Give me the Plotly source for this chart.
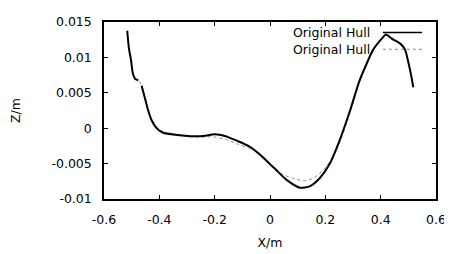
import plotly.graph_objects as go

# Solid "Original Hull" profile (None = small gap in the drawn line)
x_solid = [-0.516, -0.510, -0.502, -0.496, -0.488, -0.476, -0.470,
           -0.464, -0.452, -0.440, -0.428, -0.410, -0.386, -0.331, -0.289, -0.241, -0.199,
           -0.163, -0.120, -0.078, -0.036, 0.012, 0.060, 0.108, 0.145, 0.181, 0.217, 0.251,
           0.287, 0.323, 0.348, 0.373, 0.404, 0.419, 0.440, 0.470, 0.488, 0.500, 0.510, 0.518]
z_solid = [0.01376, 0.01132, 0.00955, 0.00778, 0.00698, 0.00676, None,
           0.00600, 0.00423, 0.00246, 0.00113, 0.00001, -0.00065, -0.00096, -0.00112, -0.00109, -0.00087,
           -0.00109, -0.00176, -0.00251, -0.00375, -0.00552, -0.00730, -0.00840, -0.00818, -0.00700, -0.00495, -0.00179,
           0.00221, 0.00665, 0.00900, 0.01110, 0.01265, 0.01323, 0.01265, 0.01198, 0.01110, 0.00932, 0.00750, 0.00578]

# Dotted "Original Hull" profile
x_dot = [-0.516, -0.510, -0.502, -0.496, -0.488, -0.476, -0.464, -0.452, -0.440, -0.428,
         -0.410, -0.386, -0.350, -0.300, -0.250, -0.205, -0.160, -0.120, -0.072, -0.036,
         0.012, 0.050, 0.084, 0.120, 0.156, 0.190, 0.220, 0.255, 0.290, 0.323, 0.348,
         0.373, 0.404, 0.419, 0.440, 0.470, 0.488, 0.500, 0.510, 0.518]
z_dot = [0.01376, 0.01132, 0.00955, 0.00778, 0.00698, 0.00676, 0.00600, 0.00423, 0.00250, 0.00125,
         0.00025, -0.00050, -0.00095, -0.00118, -0.00125, -0.00122, -0.00160, -0.00219, -0.00286, -0.00360,
         -0.00540, -0.00660, -0.00707, -0.00743, -0.00707, -0.00600, -0.00450, -0.00170, 0.00220, 0.00650, 0.00890,
         0.01100, 0.01260, 0.01315, 0.01260, 0.01195, 0.01105, 0.00930, 0.00750, 0.00578]

x_ticks = [-0.6, -0.4, -0.2, 0, 0.2, 0.4, 0.6]
x_tick_text = ["-0.6", "-0.4", "-0.2", "0", "0.2", "0.4", "0.6"]
y_ticks = [-0.01, -0.005, 0, 0.005, 0.01, 0.015]
y_tick_text = ["-0.01", "-0.005", "0", "0.005", "0.01", "0.015"]

legend_labels = ["Original Hull", "Original Hull"]

font = dict(family="DejaVu Sans, Liberation Sans, Arial, sans-serif", size=12.5, color="black")

fig = go.Figure()
fig.add_trace(go.Scatter(x=x_dot, y=z_dot, mode="lines", name=legend_labels[1],
                         line=dict(color="#8a8a8a", width=1, dash="dot", shape="spline", smoothing=0.7),
                         showlegend=False))
fig.add_trace(go.Scatter(x=x_solid, y=z_solid, mode="lines", name=legend_labels[0],
                         line=dict(color="black", width=2, shape="spline", smoothing=0.7),
                         showlegend=False, connectgaps=False))

# gnuplot-style key: text right-aligned, line sample on its right
legend_y = [0.941, 0.846]
legend_styles = [dict(color="black", width=1.5), dict(color="#8a8a8a", width=1, dash="dot")]
for lbl, yy, st in zip(legend_labels, legend_y, legend_styles):
    fig.add_annotation(x=0.807, y=yy, xref="paper", yref="paper", text=lbl, showarrow=False,
                       xanchor="right", yanchor="middle", font=font)
    fig.add_shape(type="line", xref="paper", yref="paper", x0=0.840, x1=0.958, y0=yy, y1=yy, line=st)

axis_common = dict(showline=True, linecolor="black", linewidth=1.5, mirror="ticks",
                   ticks="inside", ticklen=4, tickcolor="black", showgrid=False, zeroline=False,
                   tickfont=font)

fig.update_layout(
    width=444, height=246,
    margin=dict(l=96, r=16, t=6, b=44),
    paper_bgcolor="white", plot_bgcolor="white",
    font=font,
    xaxis=dict(range=[-0.6, 0.6], tickvals=x_ticks, ticktext=x_tick_text, ticklabelstandoff=8,
               title=dict(text="X/m", font=font, standoff=12), **axis_common),
    yaxis=dict(range=[-0.01, 0.015], tickvals=y_ticks, ticktext=y_tick_text, ticklabelstandoff=8,
               title=dict(text="Z/m", font=font, standoff=28), **axis_common),
)

fig.write_html("out.html")
